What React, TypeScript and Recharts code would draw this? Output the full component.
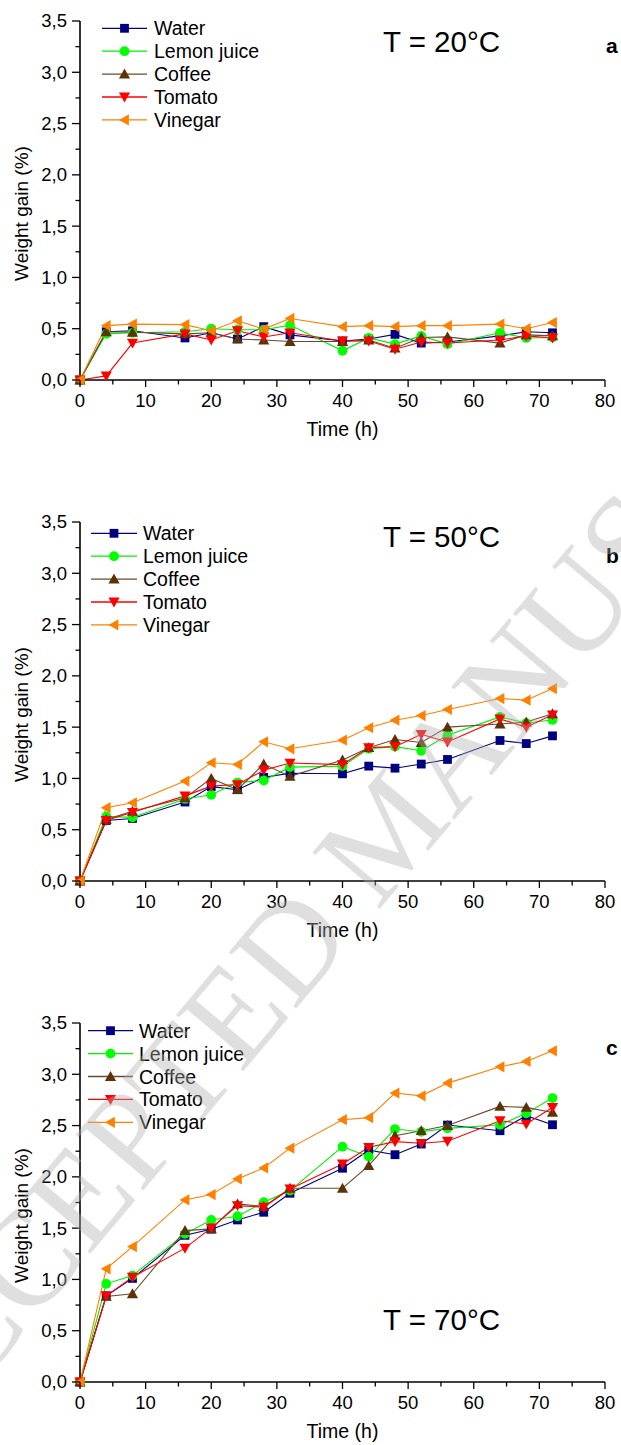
import React from 'react';
import { LineChart, Line, XAxis, YAxis } from 'recharts';

// ---------- data ----------
const time = [0, 4, 8, 16, 20, 24, 28, 32, 40, 44, 48, 52, 56, 64, 68, 72];

const water20 = [0, 0.47, 0.48, 0.41, 0.46, 0.40, 0.52, 0.44, 0.38, 0.40, 0.445, 0.36, 0.37, 0.43, 0.47, 0.46];
const lemon20 = [0, 0.45, 0.46, 0.47, 0.50, 0.49, 0.49, 0.535, 0.285, 0.41, 0.35, 0.43, 0.35, 0.46, 0.41, 0.415];
const coffee20 = [0, 0.47, 0.465, 0.45, 0.46, 0.40, 0.39, 0.375, 0.375, 0.39, 0.31, 0.415, 0.42, 0.36, 0.44, 0.43];
const tomato20 = [0, 0.04, 0.36, 0.45, 0.39, 0.48, 0.42, 0.46, 0.38, 0.38, 0.30, 0.37, 0.36, 0.39, 0.43, 0.41];
const vinegar20 = [0, 0.53, 0.545, 0.54, 0.48, 0.577, 0.496, 0.60, 0.52, 0.53, 0.52, 0.53, 0.53, 0.545, 0.50, 0.56];

const water50 = [0, 0.59, 0.61, 0.77, 0.92, 0.89, 1.01, 1.05, 1.045, 1.12, 1.10, 1.14, 1.185, 1.37, 1.34, 1.415];
const lemon50 = [0, 0.63, 0.62, 0.80, 0.84, 0.96, 0.98, 1.11, 1.12, 1.29, 1.31, 1.27, 1.42, 1.60, 1.54, 1.57];
const coffee50 = [0, 0.60, 0.68, 0.81, 1.00, 0.89, 1.14, 1.02, 1.18, 1.30, 1.38, 1.35, 1.50, 1.53, 1.55, 1.63];
const tomato50 = [0, 0.59, 0.67, 0.83, 0.925, 0.94, 1.08, 1.15, 1.135, 1.30, 1.31, 1.43, 1.355, 1.58, 1.50, 1.62];
const vinegar50 = [0, 0.715, 0.763, 0.974, 1.153, 1.136, 1.357, 1.289, 1.373, 1.494, 1.568, 1.613, 1.672, 1.779, 1.763, 1.876];

const water70 = [0, 0.84, 1.01, 1.43, 1.49, 1.58, 1.655, 1.84, 2.084, 2.26, 2.216, 2.32, 2.505, 2.45, 2.596, 2.508];
const lemon70 = [0, 0.957, 1.038, 1.444, 1.58, 1.616, 1.753, 1.866, 2.294, 2.197, 2.466, 2.44, 2.473, 2.508, 2.619, 2.768];
const coffee70 = [0, 0.834, 0.86, 1.476, 1.493, 1.736, 1.71, 1.889, 1.889, 2.109, 2.40, 2.45, 2.50, 2.687, 2.677, 2.628];
const tomato70 = [0, 0.84, 1.022, 1.305, 1.502, 1.72, 1.704, 1.882, 2.126, 2.288, 2.343, 2.327, 2.347, 2.547, 2.515, 2.677];
const vinegar70 = [0, 1.103, 1.32, 1.775, 1.827, 1.98, 2.087, 2.28, 2.557, 2.577, 2.817, 2.79, 2.914, 3.073, 3.125, 3.229];

const seriesNames = ['Water', 'Lemon juice', 'Coffee', 'Tomato', 'Vinegar'];
const xTicks = [0, 5, 10, 15, 20, 25, 30, 35, 40, 45, 50, 55, 60, 65, 70, 75, 80];
const yTicks = [0, 0.25, 0.5, 0.75, 1, 1.25, 1.5, 1.75, 2, 2.25, 2.5, 2.75, 3, 3.25, 3.5];
const titles = ['T = 20°C', 'T = 50°C', 'T = 70°C'];
const letters = ['a', 'b', 'c'];
const watermark = 'ACCEPTED MANUSCRIPT';

const FONT = '"Liberation Sans", Arial, sans-serif';

const styles = [
  { key: 'water', stroke: '#000080', fill: '#000080', shape: 'square' },
  { key: 'lemon', stroke: '#00EE00', fill: '#00FF00', shape: 'circle' },
  { key: 'coffee', stroke: '#6B4A2B', fill: '#5C3309', shape: 'up' },
  { key: 'tomato', stroke: '#FF0000', fill: '#FF0000', shape: 'down' },
  { key: 'vinegar', stroke: '#FF8000', fill: '#FF8000', shape: 'left' },
];

function buildRows(w: number[], l: number[], c: number[], t: number[], v: number[]) {
  return time.map((tt, i) => ({ t: tt, water: w[i], lemon: l[i], coffee: c[i], tomato: t[i], vinegar: v[i] }));
}

const panels = [
  { top: 0, rows: buildRows(water20, lemon20, coffee20, tomato20, vinegar20),
    legend: { x1: 102, x2: 147, tx: 154, y0: 28.3 }, titleY: 52.3, letterY: 53.3 },
  { top: 501, rows: buildRows(water50, lemon50, coffee50, tomato50, vinegar50),
    legend: { x1: 91, x2: 137, tx: 143, y0: 32.3 }, titleY: 45.7, letterY: 62 },
  { top: 1002, rows: buildRows(water70, lemon70, coffee70, tomato70, vinegar70),
    legend: { x1: 88, x2: 133, tx: 139, y0: 28.7 }, titleY: 328, letterY: 53 },
];

function Marker({ shape, cx, cy, fill }: { shape: string; cx: number; cy: number; fill: string }) {
  if (cx == null || cy == null || isNaN(cx) || isNaN(cy)) return null;
  switch (shape) {
    case 'square':
      return <rect x={cx - 4.4} y={cy - 4.4} width={8.8} height={8.8} fill={fill} />;
    case 'circle':
      return <circle cx={cx} cy={cy} r={4.9} fill={fill} />;
    case 'up':
      return <polygon points={`${cx},${cy - 5.5} ${cx + 5.6},${cy + 4.4} ${cx - 5.6},${cy + 4.4}`} fill={fill} />;
    case 'down':
      return <polygon points={`${cx - 5.6},${cy - 4.4} ${cx + 5.6},${cy - 4.4} ${cx},${cy + 5.5}`} fill={fill} />;
    default:
      return <polygon points={`${cx - 5.5},${cy} ${cx + 4.4},${cy - 5.6} ${cx + 4.4},${cy + 5.6}`} fill={fill} />;
  }
}

function XTick(props: any) {
  const { x, y, payload } = props;
  const v = payload.value;
  const major = v % 10 === 0;
  return (
    <g>
      <line x1={x} y1={y} x2={x} y2={y + (major ? 7 : 4.5)} stroke="#000" strokeWidth={1.3} />
      {major && (
        <text x={x} y={y + 26.7} textAnchor="middle" fontSize={18.5} fontFamily={FONT} fill="#000">
          {v}
        </text>
      )}
    </g>
  );
}

function YTick(props: any) {
  const { x, y, payload } = props;
  const v = payload.value;
  const major = Math.abs(v * 2 - Math.round(v * 2)) < 1e-6;
  return (
    <g>
      <line x1={x - (major ? 8 : 4.5)} y1={y} x2={x} y2={y} stroke="#000" strokeWidth={1.3} />
      {major && (
        <text x={x - 13} y={y + 6.4} textAnchor="end" fontSize={18.5} fontFamily={FONT} fill="#000">
          {v.toFixed(1).replace('.', ',')}
        </text>
      )}
    </g>
  );
}

const xLabel = (props: any) => {
  const vb = props.viewBox;
  return (
    <text x={vb.x + vb.width / 2} y={vb.y + 56} textAnchor="middle" fontSize={19.5} fontFamily={FONT} fill="#000">
      Time (h)
    </text>
  );
};

const yLabel = (props: any) => {
  const vb = props.viewBox;
  const cy = vb.y + vb.height / 2 + 13;
  return (
    <text x={0} y={0} transform={`translate(28, ${cy}) rotate(-90)`} textAnchor="middle" fontSize={19} fontFamily={FONT} fill="#000">
      Weight gain (%)
    </text>
  );
};

function Panel({ idx }: { idx: number }) {
  const p = panels[idx];
  return (
    <div style={{ position: 'absolute', left: 0, top: p.top, width: 621, height: 445 }}>
      <LineChart width={621} height={445} data={p.rows} margin={{ top: 21, right: 16, left: 0, bottom: 0 }}>
        <XAxis
          type="number"
          dataKey="t"
          domain={[0, 80]}
          ticks={xTicks}
          interval={0}
          height={65}
          tickSize={0}
          tickMargin={0}
          tickLine={false}
          axisLine={{ stroke: '#000', strokeWidth: 1.6 }}
          tick={(tp: any) => <XTick {...tp} />}
          label={xLabel}
        />
        <YAxis
          type="number"
          domain={[0, 3.5]}
          ticks={yTicks}
          interval={0}
          width={80}
          tickSize={0}
          tickMargin={0}
          tickLine={false}
          axisLine={{ stroke: '#000', strokeWidth: 1.6 }}
          tick={(tp: any) => <YTick {...tp} />}
          label={yLabel}
        />
        {styles.map((s) => (
          <Line
            key={s.key}
            type="linear"
            dataKey={s.key}
            stroke={s.stroke}
            strokeWidth={1.1}
            isAnimationActive={false}
            dot={(dp: any) => (
              <Marker key={`${s.key}-${dp.index}`} shape={s.shape} cx={dp.cx} cy={dp.cy} fill={s.fill} />
            )}
            activeDot={false}
          />
        ))}
      </LineChart>
      <svg width={621} height={445} style={{ position: 'absolute', left: 0, top: 0, pointerEvents: 'none' }}>
        {styles.map((s, i) => {
          const cy = p.legend.y0 + i * 22.9;
          return (
            <g key={s.key}>
              <line x1={p.legend.x1} y1={cy} x2={p.legend.x2} y2={cy} stroke={s.stroke} strokeWidth={1.3} />
              <Marker shape={s.shape} cx={(p.legend.x1 + p.legend.x2) / 2} cy={cy} fill={s.fill} />
              <text x={p.legend.tx} y={cy + 7} fontSize={19.5} fontFamily={FONT} fill="#000">
                {seriesNames[i]}
              </text>
            </g>
          );
        })}
        <text x={383} y={p.titleY} fontSize={29.5} fontFamily={FONT} fill="#000">
          {titles[idx]}
        </text>
        <text x={606} y={p.letterY} fontSize={21} fontWeight="bold" fontFamily={FONT} fill="#000">
          {letters[idx]}
        </text>
      </svg>
    </div>
  );
}

export default function App() {
  return (
    <div style={{ position: 'absolute', left: 0, top: 0, width: 621, height: 1445, overflow: 'hidden', background: '#fff' }}>
      <Panel idx={0} />
      <Panel idx={1} />
      <Panel idx={2} />
      <svg width={621} height={1445} style={{ position: 'absolute', left: 0, top: 0, pointerEvents: 'none' }}>
        <text
          x={0}
          y={0}
          transform="translate(387, 830) rotate(-50)"
          textAnchor="middle"
          dominantBaseline="central"
          fontSize={134}
          fontFamily='"Liberation Serif", "Times New Roman", serif'
          fill="#b0b0b0"
          opacity={0.4}
        >
          {watermark}
        </text>
      </svg>
    </div>
  );
}
